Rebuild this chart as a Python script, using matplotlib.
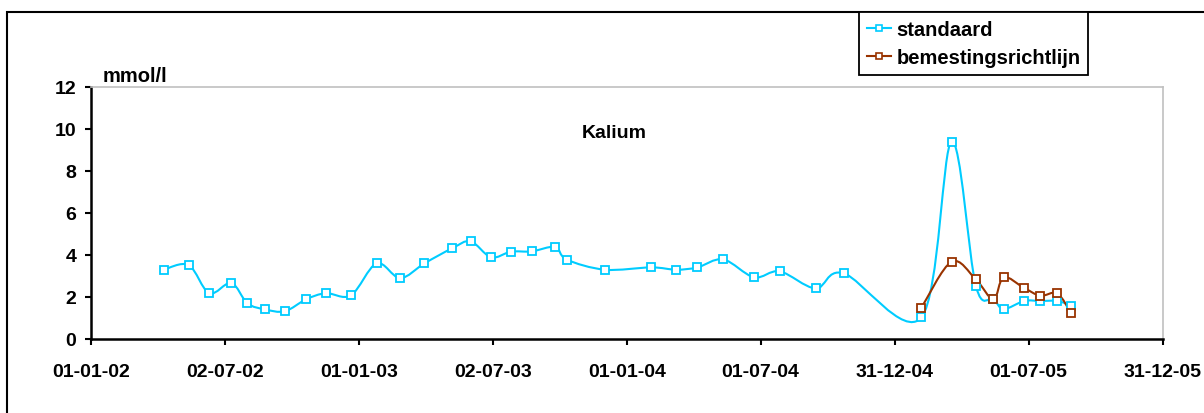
import matplotlib
matplotlib.use("Agg")
import matplotlib.pyplot as plt
import matplotlib.dates as mdates
from matplotlib.path import Path
from matplotlib.patches import PathPatch, Rectangle
from matplotlib.lines import Line2D
import numpy as np
import pandas as pd

# Kalium (mmol/l), standaard
std_dates = [
    "2002-04-10", "2002-05-14", "2002-06-11", "2002-07-11", "2002-08-02",
    "2002-08-26", "2002-09-22", "2002-10-21", "2002-11-17", "2002-12-21",
    "2003-01-25", "2003-02-26", "2003-03-31", "2003-05-08", "2003-06-02",
    "2003-06-30", "2003-07-27", "2003-08-24", "2003-09-25", "2003-10-11",
    "2003-12-02", "2004-02-03", "2004-03-08", "2004-04-06", "2004-05-11",
    "2004-06-22", "2004-07-27", "2004-09-14", "2004-10-22", "2005-02-05",
    "2005-03-18", "2005-04-20", "2005-05-14", "2005-05-28", "2005-06-25",
    "2005-07-17", "2005-08-09", "2005-08-28",
]
std_values = [
    3.30, 3.52, 2.18, 2.67, 1.70, 1.41, 1.32, 1.89, 2.18, 2.08,
    3.60, 2.90, 3.60, 4.32, 4.65, 3.89, 4.16, 4.17, 4.38, 3.78,
    3.30, 3.41, 3.30, 3.41, 3.79, 2.94, 3.22, 2.41, 3.13, 1.03,
    9.40, 2.54, 1.90, 1.43, 1.81, 1.81, 1.81, 1.59,
]

# bemestingsrichtlijn
bem_dates = [
    "2005-02-05", "2005-03-18", "2005-04-20", "2005-05-14", "2005-05-28",
    "2005-06-25", "2005-07-17", "2005-08-09", "2005-08-28",
]
bem_values = [1.49, 3.68, 2.84, 1.89, 2.94, 2.43, 2.06, 2.17, 1.22]

tick_dates = [
    "2002-01-01", "2002-07-02", "2003-01-01", "2003-07-02", "2004-01-01",
    "2004-07-01", "2004-12-31", "2005-07-01", "2005-12-31",
]
y_ticks = [0, 2, 4, 6, 8, 10, 12]

CYAN = "#00CCFF"
BROWN = "#993300"

plt.rcParams["font.family"] = ["Liberation Sans", "DejaVu Sans"]
plt.rcParams["font.weight"] = "bold"


def smooth_path(x, y):
    """Excel-like smoothed line: Catmull-Rom segments as cubic Beziers."""
    x = np.asarray(x, float)
    y = np.asarray(y, float)
    px = np.concatenate([[x[0]], x, [x[-1]]])
    py = np.concatenate([[y[0]], y, [y[-1]]])
    verts = [(x[0], y[0])]
    codes = [Path.MOVETO]
    for i in range(1, len(px) - 2):
        c1 = (px[i] + (px[i + 1] - px[i - 1]) / 6, py[i] + (py[i + 1] - py[i - 1]) / 6)
        c2 = (px[i + 1] - (px[i + 2] - px[i]) / 6, py[i + 1] - (py[i + 2] - py[i]) / 6)
        verts += [c1, c2, (px[i + 1], py[i + 1])]
        codes += [Path.CURVE4] * 3
    return Path(verts, codes)


def draw_series(ax, dates, values, color, label):
    xs = mdates.date2num(pd.to_datetime(dates))
    ax.add_patch(PathPatch(smooth_path(xs, values), fill=False,
                           edgecolor=color, linewidth=1.5, zorder=3))
    ax.plot(xs, values, linestyle="none", marker="s", markersize=5.2,
            markerfacecolor="white", markeredgecolor=color,
            markeredgewidth=1.3, zorder=4)
    return Line2D([], [], color=color, linewidth=1.5, marker="s",
                  markersize=4, markerfacecolor="white",
                  markeredgecolor=color, markeredgewidth=1.2, label=label)


fig = plt.figure(figsize=(12.04, 4.14), dpi=100)
ax = fig.add_axes([91 / 1204, 74 / 414, 1072 / 1204, 252 / 414])

h1 = draw_series(ax, std_dates, std_values, CYAN, "standaard")
h2 = draw_series(ax, bem_dates, bem_values, BROWN, "bemestingsrichtlijn")

ticks = mdates.date2num(pd.to_datetime(tick_dates))
ax.set_xlim(ticks[0], ticks[-1])
ax.set_ylim(0, 12)
ax.set_xticks(ticks)
ax.set_xticklabels(pd.to_datetime(tick_dates).strftime("%d-%m-%y"))
ax.set_yticks(y_ticks)

for side in ("top", "right"):
    ax.spines[side].set_color("#C0C0C0")
    ax.spines[side].set_linewidth(1.2)
for side in ("left", "bottom"):
    ax.spines[side].set_color("black")
    ax.spines[side].set_linewidth(1.8)

ax.tick_params(axis="both", direction="out", length=4.5, width=1.5,
               labelsize=14, colors="black")
ax.tick_params(axis="x", pad=13)
ax.tick_params(axis="y", pad=6)
for lbl in ax.get_xticklabels() + ax.get_yticklabels():
    lbl.set_fontweight("bold")

ax.text((614 - 91) / 1072, 0.821, "Kalium", transform=ax.transAxes,
        ha="center", va="center", fontsize=14, fontweight="bold")
fig.text(103 / 1204, 1 - 76 / 414, "mmol/l", ha="left", va="center",
         fontsize=14.5, fontweight="bold")

# outer chart frame
fig.patches.append(Rectangle((7 / 1204, -0.2), 1.2, 1.2 - 13 / 414,
                             transform=fig.transFigure, fill=False,
                             edgecolor="black", linewidth=1.5, zorder=0))

leg = fig.legend(handles=[h1, h2], loc="upper left",
                 bbox_to_anchor=(859 / 1204, 1 - 13 / 414),
                 fontsize=14.5, frameon=True, fancybox=False,
                 edgecolor="black", framealpha=1, handlelength=1.2,
                 handletextpad=0.25, borderpad=0.4, labelspacing=0.45,
                 borderaxespad=0)
leg.get_frame().set_linewidth(1.3)
for t in leg.get_texts():
    t.set_fontweight("bold")

fig.savefig("out.png", dpi=100)
